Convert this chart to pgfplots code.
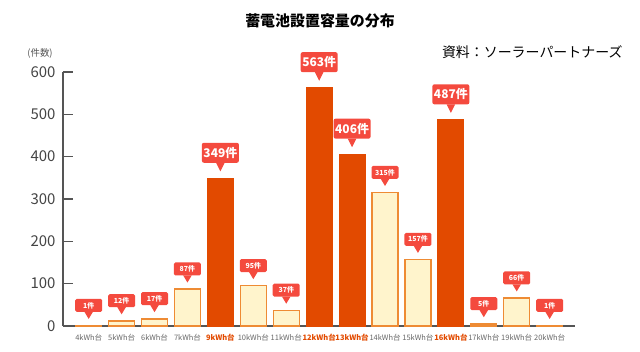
\documentclass[border=0pt]{standalone}
\usepackage{pgfplots}
\pgfplotsset{compat=1.18}
\usepackage{fontspec}
\setmainfont{Noto Sans CJK JP}
\definecolor{hl}{HTML}{E24A00}
\definecolor{lt}{HTML}{FFF4CC}
\definecolor{ltb}{HTML}{EE8B34}
\definecolor{cal}{HTML}{F44A3E}
\definecolor{ax}{HTML}{555555}
\pgfplotstableread{
x y
0 1
1 12
2 17
3 87
5 95
6 37
9 315
10 157
12 5
13 66
14 1
}\normaltab
\pgfplotstableread{
x y
4 349
7 563
8 406
11 487
}\hltab
\tikzset{
  callsmall/.style={fill=cal, draw=none, text=white, rounded corners=1.5bp,
    minimum width=27bp, minimum height=13bp, inner sep=1bp, anchor=south, yshift=13bp,
    font=\bfseries\fontsize{7}{7}\selectfont,
    append after command={\pgfextra{\fill[cal,sharp corners] ([xshift=-3bp]\tikzlastnode.south) -- ([yshift=-5bp]\tikzlastnode.south) -- ([xshift=3bp]\tikzlastnode.south) -- cycle;}}},
  callbig/.style={fill=cal, draw=none, text=white, rounded corners=2bp,
    minimum width=37bp, minimum height=20bp, inner sep=1bp, anchor=south, yshift=15bp,
    font=\bfseries\fontsize{12}{12}\selectfont,
    append after command={\pgfextra{\fill[cal,sharp corners] ([xshift=-3.5bp]\tikzlastnode.south) -- ([yshift=-7bp]\tikzlastnode.south) -- ([xshift=3.5bp]\tikzlastnode.south) -- cycle;}}},
}
\begin{document}
\begin{tikzpicture}
\path[use as bounding box] (0,0) rectangle (640bp,352bp);
\node[font=\bfseries\fontsize{15}{15}\selectfont] at (320bp,331bp) {蓄電池設置容量の分布};
\node[font=\fontsize{9.5}{9.5}\selectfont, text=ax] at (40bp,299bp) {(件数)};
\node[anchor=east,font=\fontsize{14}{14}\selectfont] at (626bp,300bp) {資料：ソーラーパートナーズ};
\begin{axis}[
  at={(63bp,26bp)}, anchor=south west,
  scale only axis, width=512bp, height=254bp,
  xmin=-0.78, xmax=14.77, ymin=0, ymax=600,
  axis lines=left,
  axis line style={-, draw=ax, line width=1.8bp},
  ytick={0,100,...,600},
  tick align=inside,
  major tick length=10bp,
  ytick style={draw=ax, line width=1.2bp},
  xtick style={draw=none},
  xtick={0,...,14},
  xticklabels={4kWh台,5kWh台,6kWh台,7kWh台,{\textcolor{hl}{\bfseries 9kWh台}},10kWh台,11kWh台,{\textcolor{hl}{\bfseries 12kWh台}},{\textcolor{hl}{\bfseries 13kWh台}},14kWh台,15kWh台,{\textcolor{hl}{\bfseries 16kWh台}},17kWh台,19kWh台,20kWh台},
  x tick label style={font=\fontsize{7.5}{7.5}\selectfont, text=ax!90, yshift=5bp},
  y tick label style={font=\fontsize{15}{15}\selectfont, text=ax!80!black, xshift=-4bp},
  /pgf/number format/assume math mode=true,
  ybar, bar width=26bp,
  clip=false,
]
\addplot[bar shift=0pt, fill=lt, draw=ltb, line width=1.4bp,
  nodes near coords={\pgfmathprintnumber[assume math mode=true]{\pgfplotspointmeta}件},
  every node near coord/.append style={callsmall}
] table[x=x,y=y] {\normaltab};
\addplot[bar shift=0pt, fill=hl, draw=hl, line width=1bp,
  nodes near coords={\pgfmathprintnumber[assume math mode=true]{\pgfplotspointmeta}件},
  every node near coord/.append style={callbig}
] table[x=x,y=y] {\hltab};
\end{axis}
\end{tikzpicture}
\end{document}
